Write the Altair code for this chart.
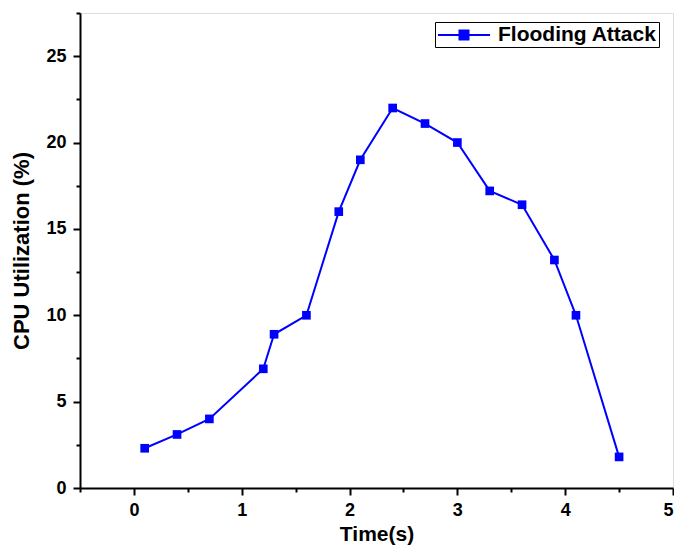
import altair as alt
import pandas as pd

time_s = [0.1, 0.4, 0.7, 1.2, 1.3, 1.6, 1.9, 2.1, 2.4, 2.7, 3.0, 3.3, 3.6, 3.9, 4.1, 4.5]
cpu_pct = [2.3, 3.1, 4.0, 6.9, 8.9, 10.0, 16.0, 19.0, 22.0, 21.1, 20.0, 17.2, 16.4, 13.2, 10.0, 1.8]
series_name = ["Flooding Attack"] * len(time_s)

x_major = [0, 1, 2, 3, 4, 5]
x_minor = [-0.5, 0.5, 1.5, 2.5, 3.5, 4.5]
y_major = [0, 5, 10, 15, 20, 25]
y_minor = [2.5, 7.5, 12.5, 17.5, 22.5, 27.5]

df = pd.DataFrame({"t": time_s, "u": cpu_pct, "s": series_name})

BLUE = "#0000FF"
FONT = "Liberation Sans"

xs = alt.Scale(domain=[-0.5, 5], nice=False, zero=False)
ys = alt.Scale(domain=[0, 27.5], nice=False, zero=False)

ax_common = dict(
    domainColor="black", domainWidth=2, ticks=True, tickColor="black", tickWidth=2,
    grid=False, labelFont=FONT, labelFontSize=18, labelFontWeight="bold",
    labelColor="black", titleFont=FONT, titleFontWeight="bold", titleColor="black",
    zindex=2,
)

x_axis = alt.Axis(values=x_major, format="d", tickSize=7, labelPadding=6,
                  title="Time(s)", titleFontSize=21, titlePadding=4, orient="bottom", **ax_common)
y_axis = alt.Axis(values=y_major, format="d", tickSize=7, labelPadding=7,
                  title="CPU Utilization (%)", titleFontSize=22, titlePadding=12,
                  orient="left", **ax_common)
x_axis_minor = alt.Axis(values=x_minor, labels=False, ticks=True, tickSize=4, domain=False,
                        title="", orient="bottom", tickColor="black", tickWidth=2,
                        grid=False, zindex=2)
y_axis_minor = alt.Axis(values=y_minor, labels=False, ticks=True, tickSize=4, domain=False,
                        title="", orient="left", tickColor="black", tickWidth=2,
                        grid=False, zindex=2)

base = alt.Chart(df)

line = base.mark_line(color=BLUE, strokeWidth=2).encode(
    x=alt.X("t:Q", scale=xs, axis=x_axis),
    y=alt.Y("u:Q", scale=ys, axis=y_axis),
)

legend = alt.Legend(
    title="", orient="none", legendX=355, legendY=9,
    symbolType="M-1,0L4.2,0M1.15,-0.45L2.05,-0.45L2.05,0.45L1.15,0.45Z",
    symbolSize=400, symbolStrokeWidth=2, symbolStrokeColor=BLUE,
    labelFont=FONT, labelFontSize=21, labelFontWeight="bold", labelColor="black",
    strokeColor="black", padding=2, labelOffset=39,
)

points = base.mark_point(shape="square", filled=True, size=75, opacity=1).encode(
    x=alt.X("t:Q", scale=xs, axis=x_axis_minor),
    y=alt.Y("u:Q", scale=ys, axis=y_axis_minor),
    color=alt.Color("s:N", scale=alt.Scale(range=[BLUE]), legend=legend),
)

chart = (
    alt.layer(line, points)
    .resolve_axis(x="independent", y="independent")
    .properties(
        width=593, height=475,
        padding={"left": 72, "top": 5, "right": 1, "bottom": 57},
        autosize=alt.AutoSizeParams(type="none"),
    )
    .configure_view(stroke="black", strokeWidth=2)
    .configure(background="white")
)

chart.save("out.html", embed_options={"renderer": "svg", "actions": False})
